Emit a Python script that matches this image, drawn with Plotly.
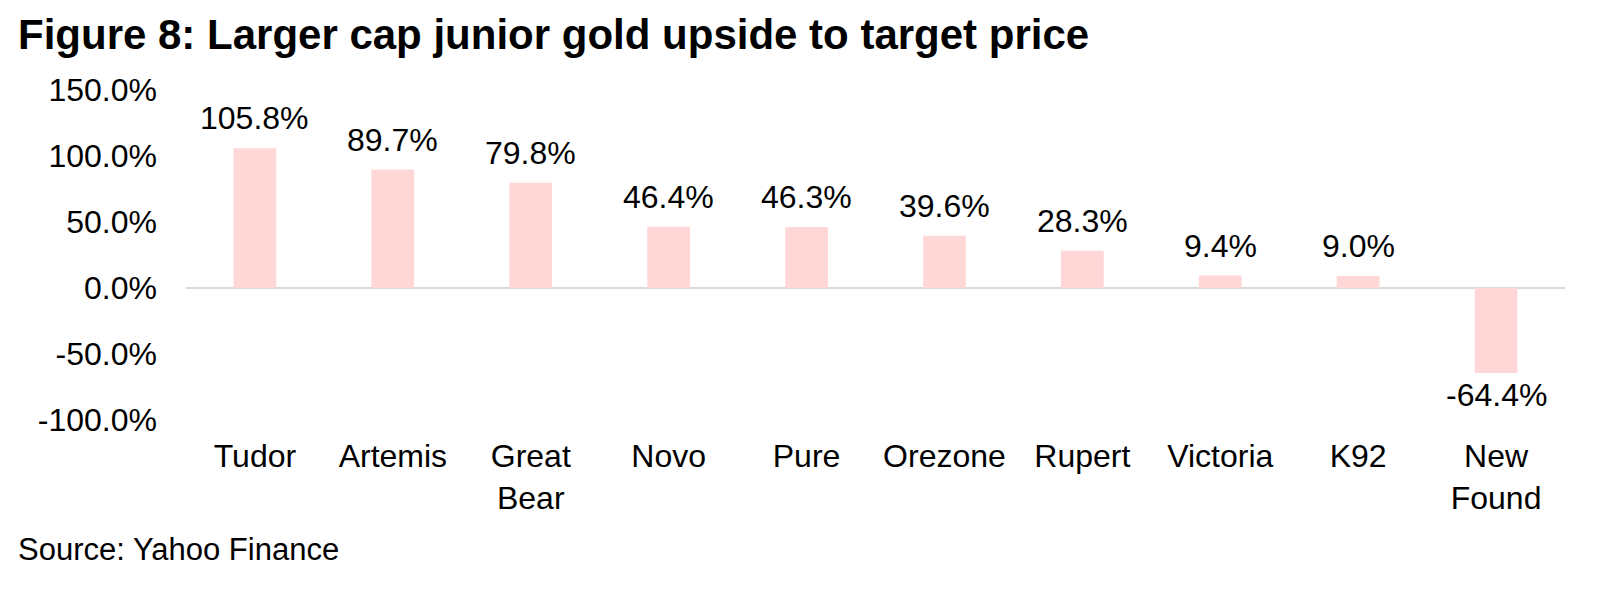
import plotly.graph_objects as go

categories = ["Tudor", "Artemis", "Great<br>Bear", "Novo", "Pure", "Orezone", "Rupert", "Victoria", "K92", "New<br>Found"]
upside = [105.8, 89.7, 79.8, 46.4, 46.3, 39.6, 28.3, 9.4, 9.0, -64.4]
y_ticks = [-100, -50, 0, 50, 100, 150]
y_tick_labels = [f"{v:.1f}%" for v in y_ticks]

# page body has an 8px default margin; figure sized to fit the window
W, H = 1595, 589
L, R, T, B = 178, 38, 82, 177
FONT = "Liberation Sans, Arial, sans-serif"

fig = go.Figure()
fig.add_trace(go.Bar(
    x=categories, y=upside,
    marker=dict(color="#FFD7D7", line=dict(width=0)),
    width=0.31,
    hoverinfo="skip",
))

for c, v in zip(categories, upside):
    fig.add_annotation(
        x=c, y=v, text=f"{v:.1f}%", showarrow=False,
        xref="x", yref="y",
        yanchor="bottom" if v >= 0 else "top",
        yshift=10 if v >= 0 else -2,
        font=dict(family=FONT, size=32, color="#000000"),
    )

fig.add_annotation(
    text="Source: Yahoo Finance", showarrow=False,
    xref="paper", yref="paper",
    x=(8 - L) / (W - L - R), y=(H - B - 541) / (H - T - B),
    xanchor="left", yanchor="middle",
    font=dict(family=FONT, size=31, color="#000000"),
)

fig.update_layout(
    width=W, height=H,
    margin=dict(l=L, r=R, t=T, b=B, pad=0, autoexpand=False),
    paper_bgcolor="white", plot_bgcolor="white",
    showlegend=False,
    title=dict(
        text="<b>Figure 8: Larger cap junior gold upside to target price</b>",
        x=10 / W, xanchor="left", xref="container",
        y=1 - 26 / H, yanchor="middle", yref="container",
        font=dict(family=FONT, size=42, color="#000000"),
    ),
    font=dict(family=FONT, size=32, color="#000000"),
)

fig.update_xaxes(
    showgrid=False, showline=False, zeroline=False,
    ticks="", ticklabelstandoff=14,
    tickfont=dict(family=FONT, size=32, color="#000000"),
    range=[-0.5, len(categories) - 0.5],
)
fig.update_yaxes(
    range=[-100, 150], tickvals=y_ticks, ticktext=y_tick_labels,
    showgrid=False, showline=False,
    zeroline=True, zerolinecolor="#D9D9D9", zerolinewidth=2,
    ticks="", ticklabelstandoff=28,
    tickfont=dict(family=FONT, size=32, color="#000000"),
)

fig.write_html("out.html")
